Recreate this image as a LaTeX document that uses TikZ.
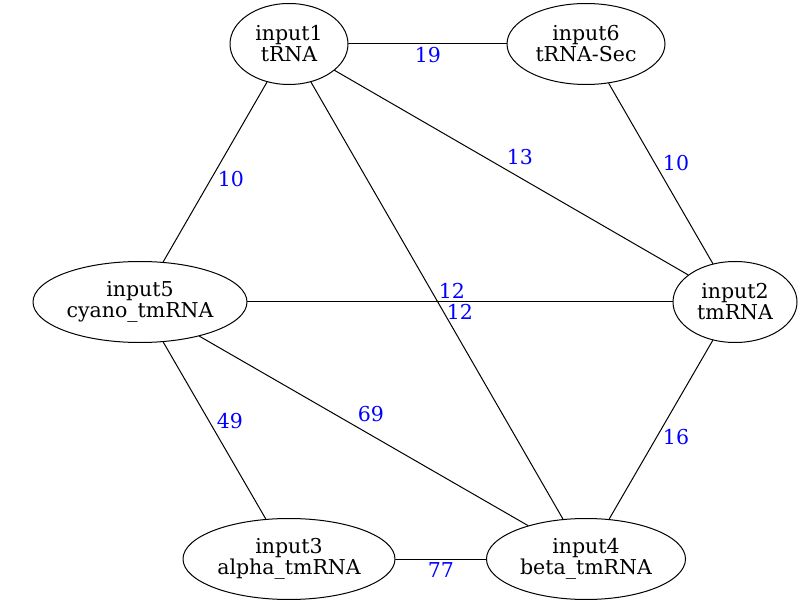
\documentclass[tikz,border=0pt]{standalone}
\usepackage{fontspec}
\setmainfont{DejaVu Serif}
\usetikzlibrary{shapes.geometric}
\begin{document}
\begin{tikzpicture}[x=1pt, y=-1pt, line width=1pt, line join=round, line cap=round,
	font=\fontsize{20.5}{21}\selectfont,
	nd/.style={draw, ellipse, inner sep=0pt, minimum height=81pt, align=center},
	wt/.style={text=blue, inner sep=0pt}]
	\useasboundingbox (0,0) rectangle (804,604);
	\node[nd, minimum width=118pt] (i1) at (289,44) {input1\\tRNA};
	\node[nd, minimum width=158pt] (i6) at (586,44) {input6\\tRNA-Sec};
	\node[nd, minimum width=214pt] (i5) at (140,302) {input5\\cyano\_tmRNA};
	\node[nd, minimum width=124pt] (i2) at (735,302) {input2\\tmRNA};
	\node[nd, minimum width=212pt] (i3) at (289,559) {input3\\alpha\_tmRNA};
	\node[nd, minimum width=199pt] (i4) at (586,559) {input4\\beta\_tmRNA};
	\foreach \a/\b/\w/\p in {i1/i6/19/{428,55}, i1/i5/10/{231,179}, i1/i2/13/{520,157},
		i1/i4/12/{460,312}, i6/i2/10/{676,163}, i5/i2/12/{452,291}, i5/i3/49/{230,421},
		i5/i4/69/{371,414}, i2/i4/16/{676,437}, i3/i4/77/{441,570}}{
		\draw (\a)--(\b);
		\node[wt] (w\a\b) at (\p) {\w};}
\end{tikzpicture}
\end{document}
